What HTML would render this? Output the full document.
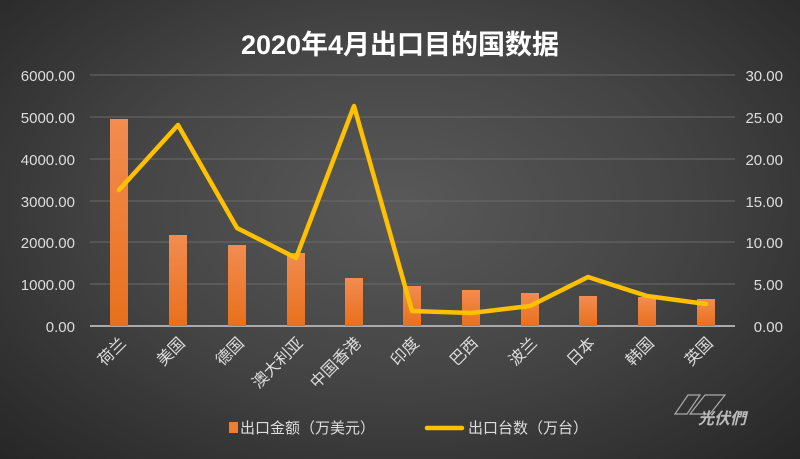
<!DOCTYPE html><html><head><meta charset="utf-8"><style>
body{margin:0}
.c{width:800px;height:459px;position:relative;overflow:hidden;background:radial-gradient(ellipse at 50% 45%,#595959 0%,#444 50%,#262626 100%);font-family:"Liberation Sans","Noto Sans CJK SC",sans-serif}
</style></head><body><div class="c">
<svg width="800" height="459" style="position:absolute;left:0;top:0">
<defs><linearGradient id="b" x1="0" y1="0" x2="0" y2="1"><stop offset="0" stop-color="#f28c50"/><stop offset="1" stop-color="#e8701c"/></linearGradient></defs>
<text x="400" y="54" fill="#fff" font-size="27" font-weight="bold" text-anchor="middle" font-family="Liberation Sans,Noto Sans CJK SC,sans-serif">2020年4月出口目的国数据</text>
<g stroke="#6a6a6a" stroke-width="1">
<line x1="90" x2="735" y1="75" y2="75"/><line x1="90" x2="735" y1="117" y2="117"/><line x1="90" x2="735" y1="159" y2="159"/><line x1="90" x2="735" y1="201" y2="201"/><line x1="90" x2="735" y1="242" y2="242"/><line x1="90" x2="735" y1="284" y2="284"/></g>
<line x1="90" x2="735" y1="326" y2="326" stroke="#aaa" stroke-width="2"/>
<g fill="#ddd" font-size="15" text-anchor="end">
<text x="75" y="81">6000.00</text><text x="75" y="123">5000.00</text><text x="75" y="165">4000.00</text><text x="75" y="207">3000.00</text><text x="75" y="248">2000.00</text><text x="75" y="290">1000.00</text><text x="75" y="332">0.00</text></g>
<g fill="#ddd" font-size="15" text-anchor="end">
<text x="783" y="81">30.00</text><text x="783" y="123">25.00</text><text x="783" y="165">20.00</text><text x="783" y="207">15.00</text><text x="783" y="248">10.00</text><text x="783" y="290">5.00</text><text x="783" y="332">0.00</text></g>
<g fill="url(#b)">
<rect x="110" y="119" width="18" height="207"/><rect x="169" y="235" width="18" height="91"/><rect x="228" y="245" width="18" height="81"/><rect x="287" y="253" width="18" height="73"/><rect x="345" y="278" width="18" height="48"/><rect x="403" y="286" width="18" height="40"/><rect x="462" y="290" width="18" height="36"/><rect x="521" y="293" width="18" height="33"/><rect x="579" y="296" width="18" height="30"/><rect x="638" y="297" width="18" height="29"/><rect x="697" y="299" width="18" height="27"/></g>
<polyline fill="none" stroke="#ffc000" stroke-width="4.5" stroke-linejoin="round" stroke-linecap="round" points="119,190 178,125 237,228 296,258 354,106 412,311 471,313 530,306 588,277 647,296 706,304"/>
<g fill="#ddd" font-size="16" text-anchor="end">
<text transform="translate(127,344) rotate(-45)">荷兰</text><text transform="translate(186,344) rotate(-45)">美国</text><text transform="translate(245,344) rotate(-45)">德国</text><text transform="translate(304,344) rotate(-45)">澳大利亚</text><text transform="translate(362,344) rotate(-45)">中国香港</text><text transform="translate(420,344) rotate(-45)">印度</text><text transform="translate(479,344) rotate(-45)">巴西</text><text transform="translate(538,344) rotate(-45)">波兰</text><text transform="translate(596,344) rotate(-45)">日本</text><text transform="translate(655,344) rotate(-45)">韩国</text><text transform="translate(714,344) rotate(-45)">英国</text></g>
<rect x="229" y="422" width="9" height="11" fill="#ed7d31"/>
<text x="240" y="433" fill="#ddd" font-size="15">出口金额（万美元）</text>
<line x1="427" x2="462" y1="428" y2="428" stroke="#ffc000" stroke-width="4.5" stroke-linecap="round"/>
<text x="468" y="433" fill="#ddd" font-size="15">出口台数（万台）</text>
<g stroke="#aaa" fill="none" stroke-width="1.2"><polygon points="675,414 688,395 700,395 687,414"/><polygon points="690,414 705,395 725,395 710,414"/></g>
<text x="698" y="424" fill="#bbb" font-size="16" font-weight="bold" font-style="italic">光伏們</text>
</svg></div></body></html>
